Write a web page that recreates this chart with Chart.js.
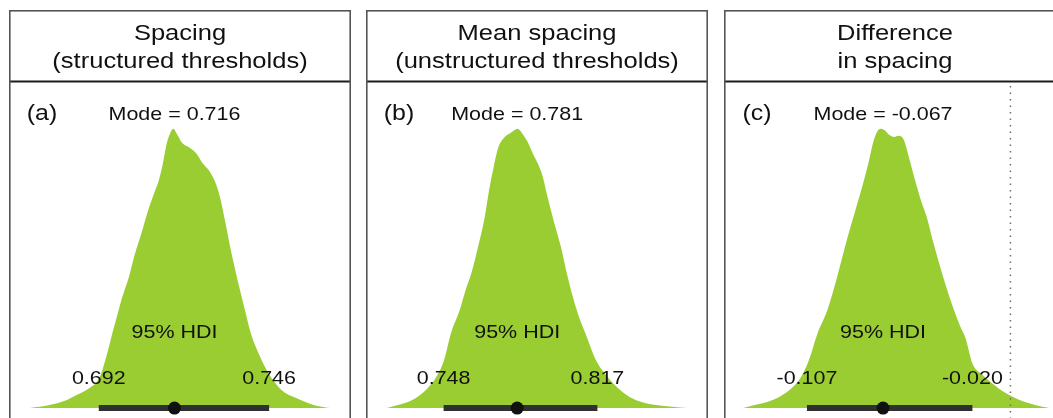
<!DOCTYPE html>
<html>
<head>
<meta charset="utf-8">
<script src="https://cdn.jsdelivr.net/npm/chart.js@4.4.1/dist/chart.umd.min.js"></script>
<style>
  html, body { margin: 0; padding: 0; background: #fff; overflow: hidden; width: 1053px; height: 418px; }
  canvas { position: absolute; top: 10px; }
</style>
</head>
<body>
<canvas id="panelA" width="342" height="430" style="left:9px"></canvas>
<canvas id="panelB" width="342" height="430" style="left:366px"></canvas>
<canvas id="panelC" width="342" height="430" style="left:724px"></canvas>
<script>
// Panel headings, tags and posterior summaries
const panelTitles = [
  ["Spacing", "(structured thresholds)"],
  ["Mean spacing", "(unstructured thresholds)"],
  ["Difference", "in spacing"]
];
const panelTags = ["(a)", "(b)", "(c)"];
const modes = [0.716, 0.781, -0.067];
const hdiLow = [0.692, 0.748, -0.107];
const hdiHigh = [0.746, 0.817, -0.020];
const hdiLowLabels = ["0.692", "0.748", "-0.107"];
const hdiHighLabels = ["0.746", "0.817", "-0.020"];
const modeLabels = ["0.716", "0.781", "-0.067"];

// Posterior density of the spacing, structured thresholds (scaled to peak 1)
const structuredSpacing = [0.6702, 0.6764, 0.6819, 0.6856, 0.6886, 0.6923, 0.6945, 0.6963, 0.6978, 0.6994,
  0.7015, 0.7034, 0.7055, 0.7076, 0.7095, 0.7110, 0.7123, 0.7135, 0.7147, 0.7156,
  0.7169, 0.7184, 0.7208, 0.7230, 0.7248, 0.7270, 0.7291, 0.7307, 0.7322, 0.7337,
  0.7353, 0.7368, 0.7386, 0.7402, 0.7429, 0.7460, 0.7500, 0.7546, 0.7601, 0.7653];
const structuredDensity = [0, 0.011, 0.029, 0.05, 0.068, 0.111, 0.189, 0.268, 0.33, 0.396,
  0.468, 0.55, 0.625, 0.707, 0.768, 0.814, 0.875, 0.946, 0.986, 1.0,
  0.979, 0.95, 0.932, 0.911, 0.879, 0.85, 0.804, 0.743, 0.661, 0.575,
  0.493, 0.421, 0.339, 0.268, 0.19, 0.121, 0.064, 0.036, 0.011, 0];

// Posterior density of the mean spacing, unstructured thresholds
const unstructuredSpacing = [0.7226, 0.7274, 0.7317, 0.7361, 0.7408, 0.7447, 0.7482, 0.7513, 0.7552, 0.7578,
  0.7608, 0.7638, 0.7664, 0.7686, 0.7704, 0.7725, 0.7751, 0.7782, 0.7812, 0.7834,
  0.7855, 0.7881, 0.7921, 0.7947, 0.7977, 0.8007, 0.8033, 0.8064, 0.8090, 0.8116,
  0.8164, 0.8216, 0.8263, 0.8316, 0.8372, 0.8433, 0.8576];
const unstructuredDensity = [0, 0.011, 0.021, 0.039, 0.071, 0.111, 0.171, 0.268, 0.35, 0.421,
  0.493, 0.589, 0.682, 0.789, 0.861, 0.932, 0.968, 0.986, 1.0, 0.982,
  0.957, 0.911, 0.839, 0.754, 0.661, 0.575, 0.482, 0.386, 0.321, 0.268,
  0.171, 0.111, 0.071, 0.039, 0.021, 0.011, 0];

// Posterior density of the difference in spacing
const spacingDifference = [-0.1406, -0.1345, -0.1284, -0.1218, -0.1151, -0.1101, -0.1060, -0.1014, -0.0963, -0.0912,
  -0.0861, -0.0811, -0.0775, -0.0744, -0.0724, -0.0704, -0.0683, -0.0663, -0.0638, -0.0612,
  -0.0587, -0.0561, -0.0536, -0.0505, -0.0470, -0.0439, -0.0404, -0.0353, -0.0302, -0.0266,
  -0.0236, -0.0200, -0.0149, -0.0098, -0.0032, 0.0039, 0.0130, 0.0206];
const differenceDensity = [0, 0.011, 0.021, 0.039, 0.071, 0.111, 0.171, 0.268, 0.35, 0.468,
  0.6, 0.718, 0.804, 0.886, 0.946, 0.986, 1.0, 0.996, 0.979, 0.971,
  0.975, 0.961, 0.904, 0.825, 0.743, 0.682, 0.589, 0.468, 0.361, 0.296,
  0.25, 0.16, 0.12, 0.09, 0.057, 0.032, 0.011, 0];

// Visible range of each horizontal axis and the shared density axis
const axisMin = [0.6656, 0.7161, -0.1472];
const axisMax = [0.7699, 0.8637, 0.0258];
const densityMin = -0.0857;
const densityMax = 1.1643;
const referenceValue = 0;

const densityX = [structuredSpacing, unstructuredSpacing, spacingDifference];
const densityY = [structuredDensity, unstructuredDensity, differenceDensity];

const GREEN = "rgb(154,205,50)";
const INK = "#111";
const FONT = "'Liberation Sans', Arial, Helvetica, sans-serif";
const STRETCH = 1.16;

function stretchedText(ctx, text, x, y, size) {
  ctx.save();
  ctx.font = size + "px " + FONT;
  ctx.translate(x, y);
  ctx.scale(STRETCH, 1);
  ctx.textAlign = "center";
  ctx.textBaseline = "alphabetic";
  ctx.fillStyle = INK;
  ctx.fillText(text, 0, 0);
  ctx.restore();
}

// Frame, header strip and annotation text of one facet
const facetDecor = {
  id: "facetDecor",
  afterDatasetsDraw(chart, args, opts) {
    const ctx = chart.ctx;
    const xs = chart.scales.x, ys = chart.scales.y;
    const w = chart.width, h = chart.height;
    ctx.save();
    // strip text
    stretchedText(ctx, opts.title[0], w / 2, 30, 22);
    stretchedText(ctx, opts.title[1], w / 2, 58, 22);
    // strip separator
    ctx.strokeStyle = "#1a1a1a";
    ctx.lineWidth = 2;
    ctx.beginPath();
    ctx.moveTo(0, 71.5);
    ctx.lineTo(w, 71.5);
    ctx.stroke();
    // outer frame
    ctx.strokeStyle = "#555";
    ctx.lineWidth = 1.6;
    ctx.strokeRect(0.8, 0.8, w - 1.6, h + 20);
    // tag and mode label
    const yMode = ys.getPixelForValue(1.032);
    stretchedText(ctx, opts.tag, 33, yMode, 21.5);
    stretchedText(ctx, "Mode = " + opts.modeLabel, xs.getPixelForValue(opts.mode), yMode, 18.5);
    // HDI caption and bounds
    stretchedText(ctx, "95% HDI", xs.getPixelForValue(opts.mode), ys.getPixelForValue(0.25), 18.5);
    const yBound = ys.getPixelForValue(0.0857);
    stretchedText(ctx, opts.lowLabel, xs.getPixelForValue(opts.low), yBound, 18.5);
    stretchedText(ctx, opts.highLabel, xs.getPixelForValue(opts.high), yBound, 18.5);
    ctx.restore();
  }
};

function buildFacet(canvasId, i) {
  const curve = densityX[i].map((x, k) => ({ x: x, y: densityY[i][k] }));
  const datasets = [
    { // mode point
      type: "scatter",
      data: [{ x: modes[i], y: 0 }],
      pointRadius: 6.5,
      pointBackgroundColor: "#111",
      pointBorderWidth: 0,
      order: 0
    },
    { // 95% HDI interval
      type: "line",
      data: [{ x: hdiLow[i], y: 0 }, { x: hdiHigh[i], y: 0 }],
      borderColor: "#303030",
      borderWidth: 6,
      borderCapStyle: "butt",
      pointRadius: 0,
      fill: false,
      order: 1
    },
    { // posterior density
      type: "line",
      data: curve,
      borderWidth: 0,
      borderColor: GREEN,
      backgroundColor: GREEN,
      fill: "origin",
      pointRadius: 0,
      cubicInterpolationMode: "monotone",
      order: 3
    }
  ];
  if (i === 2) {
    datasets.push({ // reference line at zero difference
      type: "line",
      data: [{ x: referenceValue, y: densityMin }, { x: referenceValue, y: densityMax }],
      borderColor: "#6e6e6e",
      borderWidth: 1.5,
      borderDash: [1.5, 5],
      pointRadius: 0,
      fill: false,
      order: 2
    });
  }
  return new Chart(document.getElementById(canvasId), {
    type: "line",
    data: { datasets: datasets },
    options: {
      responsive: false,
      animation: false,
      devicePixelRatio: 1,
      layout: { padding: { top: 73, left: 1, right: 1, bottom: 8 } },
      scales: {
        x: { type: "linear", min: axisMin[i], max: axisMax[i], display: false },
        y: { type: "linear", min: densityMin, max: densityMax, display: false }
      },
      plugins: {
        legend: { display: false },
        tooltip: { enabled: false },
        facetDecor: {
          title: panelTitles[i],
          tag: panelTags[i],
          mode: modes[i],
          modeLabel: modeLabels[i],
          low: hdiLow[i],
          high: hdiHigh[i],
          lowLabel: hdiLowLabels[i],
          highLabel: hdiHighLabels[i]
        }
      }
    },
    plugins: [facetDecor]
  });
}

buildFacet("panelA", 0);
buildFacet("panelB", 1);
buildFacet("panelC", 2);
</script>
</body>
</html>
